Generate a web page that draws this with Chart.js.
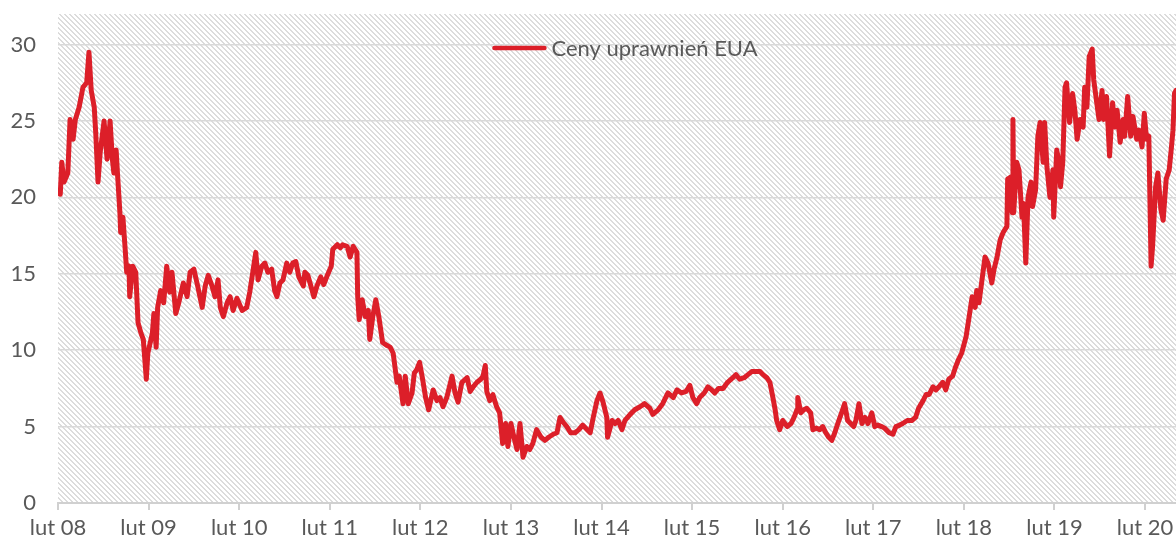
<!DOCTYPE html>
<html>
<head>
<meta charset="utf-8">
<script src="https://cdn.jsdelivr.net/npm/chart.js@4.4.1/dist/chart.umd.min.js"></script>
<style>
  body { margin: 0; background: #fff; }
  #wrap { width: 1176px; height: 545px; position: relative; }
</style>
</head>
<body>
<div id="wrap"><canvas id="myChart"></canvas></div>
<script>
// miesiace od lutego 2008
const months = [
  0.3, 0.5, 0.8, 1.3, 1.6, 2.0, 2.3, 2.8, 3.3, 3.8, 4.1, 4.4, 4.8, 5.0, 5.3, 5.6, 6.1, 6.5, 6.9, 7.2,
  7.4, 7.7, 7.9, 8.2, 8.3, 8.6, 8.9, 9.1, 9.4, 9.5, 9.9, 10.3, 10.6, 11.0, 11.3, 11.7, 11.9, 12.5, 12.7, 13.0,
  13.2, 13.6, 14.0, 14.4, 14.8, 15.1, 15.6, 16.0, 16.6, 17.1, 17.5, 18.0, 18.5, 19.1, 19.5, 19.9, 20.4, 20.8, 21.2, 21.5,
  21.9, 22.4, 22.8, 23.2, 23.7, 24.4, 24.5, 25.0, 25.4, 25.8, 26.2, 26.5, 27.0, 27.4, 27.8, 28.3, 28.7, 29.0, 29.4, 29.8,
  30.3, 30.7, 31.1, 31.5, 31.9, 32.5, 32.7, 33.1, 33.5, 33.9, 34.3, 34.8, 35.2, 35.6, 36.2, 36.4, 37.0, 37.4, 37.7, 38.3,
  38.7, 39.1, 39.6, 39.7, 39.9, 40.3, 40.7, 41.1, 41.3, 41.7, 42.1, 42.5, 43.0, 43.6, 44.0, 44.4, 44.9, 45.2, 45.7, 46.0,
  46.4, 46.9, 47.2, 47.5, 47.9, 48.3, 48.7, 49.1, 49.7, 50.2, 50.6, 51.0, 51.5, 52.2, 52.6, 53.0, 53.5, 54.2, 54.6, 55.0,
  55.5, 56.0, 56.3, 56.6, 56.8, 57.2, 57.6, 58.1, 58.5, 58.9, 59.3, 59.6, 60.0, 60.4, 60.8, 61.2, 61.6, 62.1, 62.5, 62.9,
  63.4, 64.0, 64.5, 65.0, 65.6, 66.1, 66.5, 66.9, 67.4, 67.9, 68.5, 69.0, 69.5, 70.1, 70.5, 70.9, 71.4, 71.8, 72.2, 72.7,
  72.8, 73.4, 73.8, 74.2, 74.7, 75.1, 75.8, 76.4, 77.1, 77.7, 78.4, 78.8, 79.5, 80.1, 80.8, 81.5, 82.0, 82.6, 83.2, 83.7,
  84.1, 84.6, 85.0, 85.6, 86.1, 86.6, 87.0, 87.5, 88.1, 88.7, 89.4, 89.8, 90.3, 90.9, 91.4, 91.9, 92.5, 93.0, 93.4, 93.9,
  94.3, 94.7, 95.0, 95.2, 95.6, 96.0, 96.6, 97.1, 97.5, 97.9, 98.0, 98.4, 98.8, 99.2, 99.7, 100.0, 100.5, 100.9, 101.3, 101.7,
  102.1, 102.5, 102.9, 103.3, 103.8, 104.2, 104.6, 105.0, 105.4, 105.7, 106.1, 106.5, 106.9, 107.3, 107.8, 108.2, 108.6, 109.1, 109.5, 110.1,
  110.6, 111.0, 111.5, 111.9, 112.5, 113.1, 113.6, 114.0, 114.6, 115.0, 115.4, 115.9, 116.3, 116.7, 117.2, 117.6, 118.0, 118.5, 118.9, 119.3,
  119.7, 120.3, 120.7, 121.1, 121.5, 121.7, 122.0, 122.4, 122.8, 123.2, 123.7, 124.0, 124.4, 124.8, 125.2, 125.7, 125.8, 126.1, 126.4, 126.5,
  126.6, 127.0, 127.3, 127.7, 127.9, 128.2, 128.5, 128.9, 129.1, 129.5, 129.8, 130.1, 130.5, 130.7, 131.0, 131.4, 131.8, 131.9, 132.3, 132.6,
  132.8, 133.1, 133.4, 133.6, 134.0, 134.4, 134.7, 135.0, 135.4, 135.8, 136.0, 136.3, 136.6, 137.0, 137.2, 137.6, 137.9, 138.3, 138.5, 138.9,
  139.3, 139.7, 140.0, 140.3, 140.7, 141.1, 141.3, 141.7, 142.1, 142.4, 142.9, 143.2, 143.6, 143.9, 144.2, 144.5, 144.8, 145.0, 145.4, 145.7,
  146.1, 146.4, 146.8, 147.2, 147.5, 147.7, 147.9, 148.1
];

const prices = [
  20.2, 22.3, 21.0, 21.6, 25.1, 23.8, 25.1, 25.9, 27.2, 27.5, 29.5, 27.0, 25.9, 24.2, 21.0, 23.0, 25.0, 22.5, 25.0, 22.5,
  21.6, 23.1, 21.4, 19.0, 17.7, 18.7, 16.6, 15.1, 15.5, 13.5, 15.5, 15.1, 11.8, 11.1, 10.7, 8.1, 9.8, 11.1, 12.4, 10.2,
  12.8, 13.9, 13.1, 15.5, 13.8, 15.1, 12.4, 13.1, 14.4, 13.5, 15.1, 15.3, 14.2, 12.8, 14.2, 14.9, 14.2, 13.5, 14.6, 12.8,
  12.2, 13.1, 13.5, 12.6, 13.4, 12.6, 12.6, 12.8, 13.8, 15.1, 16.4, 14.6, 15.5, 15.7, 15.1, 15.3, 13.9, 13.5, 14.4, 14.6,
  15.7, 15.1, 15.7, 15.8, 14.8, 14.2, 15.1, 14.9, 14.2, 13.5, 14.2, 14.8, 14.3, 14.8, 15.5, 16.6, 16.9, 16.7, 16.9, 16.8,
  16.1, 16.8, 16.4, 13.5, 12.0, 13.3, 12.2, 12.6, 10.7, 12.2, 13.3, 12.2, 10.5, 10.3, 10.2, 9.8, 7.9, 8.3, 6.5, 8.3,
  6.5, 7.2, 8.5, 8.7, 9.2, 8.1, 6.9, 6.1, 7.4, 6.7, 6.9, 6.3, 6.9, 8.3, 7.2, 6.6, 7.9, 8.2, 7.3, 7.6,
  7.9, 8.1, 8.3, 9.0, 7.3, 6.7, 7.1, 6.3, 5.9, 3.9, 5.2, 3.7, 5.2, 4.3, 3.5, 5.2, 3.0, 3.7, 3.5, 3.9,
  4.8, 4.3, 4.1, 4.3, 4.5, 4.6, 5.6, 5.3, 5.0, 4.6, 4.6, 4.8, 5.1, 4.8, 4.6, 5.6, 6.7, 7.2, 6.6, 5.6,
  4.3, 5.4, 5.2, 5.4, 4.8, 5.4, 5.8, 6.1, 6.3, 6.5, 6.2, 5.8, 6.1, 6.5, 7.2, 6.9, 7.4, 7.2, 7.3, 7.7,
  6.9, 6.5, 6.9, 7.2, 7.6, 7.4, 7.2, 7.5, 7.5, 7.9, 8.2, 8.4, 8.1, 8.2, 8.4, 8.6, 8.6, 8.6, 8.4, 8.2,
  7.9, 6.9, 6.1, 5.4, 4.8, 5.4, 5.0, 5.2, 5.6, 6.1, 6.9, 5.9, 6.1, 6.2, 5.9, 4.8, 4.9, 4.8, 5.0, 4.6,
  4.3, 4.1, 4.6, 5.2, 5.9, 6.5, 5.4, 5.2, 5.0, 5.4, 6.5, 5.2, 5.6, 5.2, 5.9, 5.0, 5.1, 5.0, 4.9, 4.6,
  4.5, 5.0, 5.1, 5.2, 5.4, 5.4, 5.6, 6.2, 6.7, 7.1, 7.1, 7.6, 7.4, 7.6, 7.9, 7.4, 8.1, 8.3, 8.9, 9.4,
  9.8, 10.9, 12.2, 13.5, 12.8, 13.9, 13.1, 14.6, 16.1, 15.7, 14.4, 15.3, 16.1, 17.2, 17.7, 18.1, 21.2, 21.3, 19.0, 25.1,
  19.0, 22.3, 21.8, 18.7, 19.6, 15.7, 20.0, 21.0, 19.4, 20.5, 24.0, 24.9, 22.3, 24.9, 22.0, 20.0, 21.8, 18.7, 23.1, 22.3,
  20.7, 22.3, 27.2, 27.5, 24.9, 26.8, 25.7, 23.8, 25.1, 24.6, 27.2, 25.9, 29.2, 29.7, 27.7, 26.2, 25.1, 27.0, 25.1, 26.6,
  22.7, 26.2, 24.6, 25.7, 23.6, 25.1, 24.0, 26.6, 24.0, 25.3, 23.8, 24.4, 23.3, 25.5, 23.8, 24.0, 15.5, 16.8, 20.7, 21.6,
  19.2, 18.5, 21.2, 21.8, 23.3, 24.4, 26.8, 27.0
];

const xTickMonths = [0, 12, 24, 36, 48, 60, 72, 84, 96, 108, 120, 132, 144];
const xTickLabels = ['lut 08', 'lut 09', 'lut 10', 'lut 11', 'lut 12', 'lut 13', 'lut 14', 'lut 15', 'lut 16', 'lut 17', 'lut 18', 'lut 19', 'lut 20'];
const yTicks = [0, 5, 10, 15, 20, 25, 30];
const seriesName = 'Ceny uprawnień EUA';

const red = '#DC1F29';
const gray = '#595959';

// tlo w ukosne paski
const makeHatch = () => {
    const c = document.createElement('canvas');
    c.width = 5;
    c.height = 5;
    const g = c.getContext('2d');
    g.fillStyle = '#ffffff';
    g.fillRect(0, 0, 5, 5);
    g.fillStyle = '#dcdcdc';
    for (let i = 0; i < 5; i++) {
        g.fillRect(i, i, 1, 1);
        g.fillRect((i + 1) % 5, i, 1, 1);
    }
    return c;
};

const hatchPlugin = {
    id: 'hatch',
    beforeDraw(chart) {
        const { ctx, chartArea } = chart;
        ctx.save();
        ctx.fillStyle = ctx.createPattern(makeHatch(), 'repeat');
        ctx.fillRect(chartArea.left, chartArea.top, chartArea.right - chartArea.left, chartArea.bottom - chartArea.top);
        ctx.restore();
    }
};

// legenda wewnatrz obszaru wykresu
const legendPlugin = {
    id: 'insideLegend',
    afterDraw(chart) {
        const { ctx, chartArea } = chart;
        const label = chart.data.datasets[0].label;
        ctx.save();
        ctx.font = '22px Lato';
        const tw = ctx.measureText(label).width;
        const lineW = 54, gap = 5;
        const total = lineW + gap + tw;
        const x0 = (chartArea.left + chartArea.right) / 2 - total / 2 + 8;
        const y = chartArea.top + 34;
        ctx.strokeStyle = red;
        ctx.lineWidth = 4.5;
        ctx.lineCap = 'round';
        ctx.beginPath();
        ctx.moveTo(x0 + 2, y);
        ctx.lineTo(x0 + lineW - 2, y);
        ctx.stroke();
        ctx.fillStyle = gray;
        ctx.textBaseline = 'middle';
        ctx.fillText(label, x0 + lineW + gap, y + 1);
        ctx.restore();
    }
};

const points = months.map((m, i) => ({ x: m, y: prices[i] }));

const ctx = document.getElementById('myChart').getContext('2d');
const myChart = new Chart(ctx, {
    type: 'line',
    data: {
        datasets: [{
            label: seriesName,
            data: points,
            borderColor: red,
            backgroundColor: red,
            borderWidth: 5,
            borderJoinStyle: 'round',
            borderCapStyle: 'round',
            pointRadius: 0,
            tension: 0
        }]
    },
    options: {
        responsive: true,
        maintainAspectRatio: false,
        animation: false,
        layout: { padding: { top: 14, right: 0, left: 0, bottom: 0 } },
        plugins: {
            tooltip: { enabled: false },
            legend: { display: false }
        },
        scales: {
            x: {
                type: 'linear',
                min: 0,
                max: 148.1,
                afterBuildTicks: (scale) => {
                    scale.ticks = xTickMonths.map(v => ({ value: v }));
                },
                afterFit: (scale) => {
                    scale.height = 42;
                    scale.paddingLeft = 0;
                    scale.paddingRight = 0;
                },
                ticks: {
                    autoSkip: false,
                    maxRotation: 0,
                    padding: 5,
                    color: gray,
                    font: { family: 'Lato', size: 22 },
                    callback: (v) => xTickLabels[xTickMonths.indexOf(v)]
                },
                grid: {
                    drawOnChartArea: false,
                    tickLength: 7,
                    color: '#d0d0d0',
                    lineWidth: 2
                },
                border: { color: '#d0d0d0', width: 2 }
            },
            y: {
                min: 0,
                max: 32,
                afterBuildTicks: (scale) => {
                    scale.ticks = yTicks.map(v => ({ value: v }));
                },
                afterFit: (scale) => {
                    scale.width = 58;
                    scale.paddingTop = 0;
                    scale.paddingBottom = 0;
                },
                ticks: {
                    padding: 22,
                    color: gray,
                    font: { family: 'Lato', size: 22 }
                },
                grid: {
                    color: '#d9d9d9',
                    lineWidth: 1.5,
                    drawTicks: false
                },
                border: { display: false }
            }
        }
    },
    plugins: [hatchPlugin, legendPlugin]
});
</script>
</body>
</html>
